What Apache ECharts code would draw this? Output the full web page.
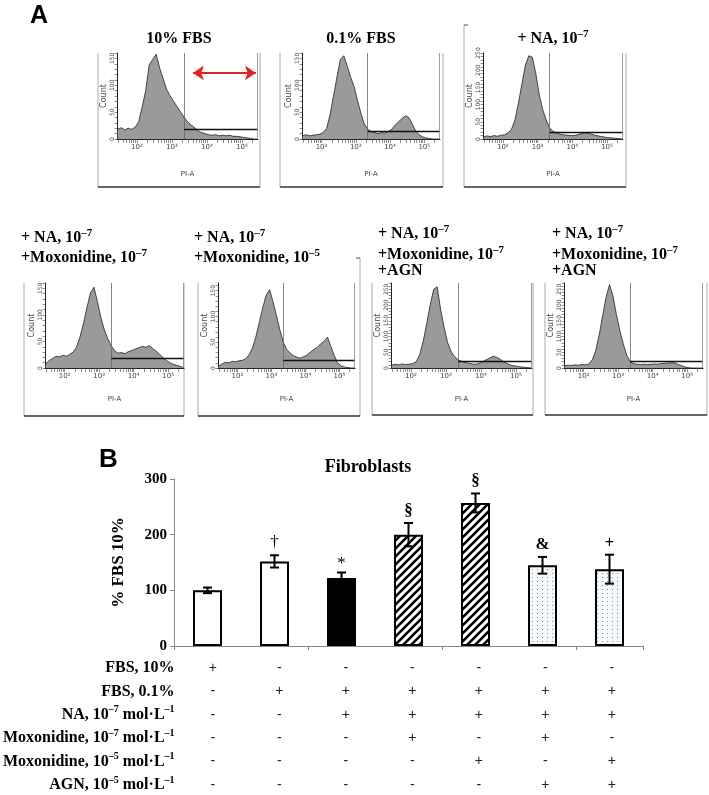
<!DOCTYPE html>
<html><head><meta charset="utf-8">
<script src="https://cdn.jsdelivr.net/npm/echarts@6/dist/echarts.min.js"></script>
<style>html,body{margin:0;padding:0;background:#fff}#c{width:709px;height:795px}</style>
</head><body><div id="c"></div>
<script>
// ---------- Panel A: flow cytometry histograms (x = log10 PI-A, y = count) ----------
const histX = [1.45,1.55,1.65,1.75,1.85,1.95,2.05,2.15,2.25,2.35,2.45,2.55,2.65,2.75,2.85,2.95,3.05,3.15,3.25,3.35,3.45,3.55,3.65,3.75,3.85,3.95,4.05,4.15,4.25,4.35,4.45,4.55,4.65,4.75,4.85,4.95,5.05,5.15,5.25,5.35,5.45];
const histFBS10   = [18,21,17,20,18,22,32,60,90,138,148,158,132,112,92,80,70,60,50,40,32,26,21,15,12,10,8,7,8,6,7,6,7,5,5,4,3,2,1,0,0];
const histFBS01   = [6,8,6,7,8,9,12,20,45,80,115,148,155,136,115,98,72,48,28,18,14,12,10,12,11,14,18,26,32,38,43,40,28,15,8,4,2,1,0,0,0];
const histNA      = [6,9,7,10,8,11,12,18,28,55,105,160,215,242,238,190,128,85,55,32,22,18,14,12,11,10,10,12,15,18,17,14,11,9,7,5,4,3,2,1,0];
const histNAMox7  = [8,14,18,22,21,24,22,26,30,40,60,85,115,142,152,125,95,72,55,42,32,28,29,27,31,33,36,38,41,39,42,37,32,26,20,14,10,7,5,3,1];
const histNAMox5  = [4,8,11,10,13,12,14,15,18,26,40,62,90,118,142,152,128,102,74,50,36,29,24,21,19,22,25,31,36,40,47,52,60,42,24,10,4,2,1,0,0];
const histAGN1    = [9,12,10,13,11,12,14,20,42,85,140,200,250,258,185,128,80,52,36,26,21,18,15,13,12,15,20,26,32,37,34,28,20,14,9,7,5,3,2,1,0];
const histAGN2    = [7,9,8,10,9,11,10,13,26,55,105,165,225,265,228,170,118,76,40,20,14,12,11,12,11,12,13,12,14,15,16,17,16,11,7,3,1,0,0,0,0];
const histYMax    = [160,160,250,160,165,270,270];
const histGateLvl = [19,14,21,19,16,22,22];
const gateX = 3.35, xLo = 1.43, xHi = 5.46, xEnd = 5.44;
const arrowX = [3.6, 5.4], arrowY = 123;
const decadeTicks = [2,3,4,5];

// ---------- Panel B: bar chart ----------
const groups = ['FBS 10%','FBS 0.1%','NA','NA+Mox7','NA+Mox5','NA+Mox7+AGN','NA+Mox5+AGN'];
const means  = [100,152,122,200,257,145,138];
const errs   = [5,11,10,21,17,15,26];
const marks  = ['','†','*','§','§','&','+'];
const yTicksB = [0,100,200,300];
const rowLabels = ['FBS, 10%','FBS, 0.1%','NA, 10{s|–7} mol·L{s|–1}','Moxonidine, 10{s|–7} mol·L{s|–1}','Moxonidine, 10{s|–5} mol·L{s|–1}','AGN, 10{s|–5} mol·L{s|–1}'];
const tableSigns = [
  ['+','-','-','-','-','-','-'],
  ['-','+','+','+','+','+','+'],
  ['-','-','+','+','+','+','+'],
  ['-','-','-','+','-','+','-'],
  ['-','-','-','-','+','-','+'],
  ['-','-','-','-','-','+','+']
];

const SERIF = '"Liberation Serif","Times New Roman",serif';
const SANS = '"Liberation Sans",Arial,sans-serif';
const histData = [histFBS10,histFBS01,histNA,histNAMox7,histNAMox5,histAGN1,histAGN2];
const gridL = [117,302,483,45,218,391,564];
const gridW = [141,138,140,139,137,141,139];
const gridT = [53,53,53,283,283,283,283];
const gridH = [86,86,86,85,85,85,85];
const nameGapX = [32,32,32,28,28,28,28];

const minorX = [];
for (let n = 1; n <= 5; n++) for (let k = 1; k <= 9; k++) { const v = n + Math.log10(k); if (v >= xLo && v <= xHi) minorX.push(+v.toFixed(4)); }
const sup = {2:'10²',3:'10³',4:'10⁴',5:'10⁵'};

function hatchCanvas(){
  const s=8,c=document.createElement('canvas');c.width=c.height=s;const g=c.getContext('2d');
  g.fillStyle='#fff';g.fillRect(0,0,s,s);g.strokeStyle='#000';g.lineWidth=2.6;g.beginPath();
  g.moveTo(-2,s+2);g.lineTo(s+2,-2);g.moveTo(-2,2);g.lineTo(2,-2);g.moveTo(s-2,s+2);g.lineTo(s+2,s-2);g.stroke();return c;
}
function dotCanvas(){
  const c=document.createElement('canvas');c.width=5;c.height=4;const g=c.getContext('2d');
  g.fillStyle='#f6f9fc';g.fillRect(0,0,5,4);g.fillStyle='#6f92bb';g.fillRect(2,1,1,1);return c;
}
const fills = {open:'#fff', solid:'#000', hatch:{image:hatchCanvas(),repeat:'repeat'}, dots:{image:dotCanvas(),repeat:'repeat'}};
const fillKind = ['open','open','solid','hatch','hatch','dots','dots'];

const grids=[], xAxes=[], yAxes=[], series=[];
histData.forEach((arr,i)=>{
  const ymax = histYMax[i];
  grids.push({left:gridL[i], top:gridT[i], width:gridW[i], height:gridH[i]});
  const yt=[]; for(let v=0; v<=ymax; v+=10) yt.push(v);
  const yl=[]; for(let v=0; v<=ymax; v+=50) yl.push(v);
  xAxes.push({type:'value', gridIndex:i, min:xLo, max:xHi,
    axisLine:{lineStyle:{color:'#222',width:1}},
    axisTick:{customValues:minorX, length:4, lineStyle:{color:'#444',width:0.6}},
    axisLabel:{customValues:decadeTicks, formatter:v=>sup[Math.round(v)]||'', fontSize:7, color:'#444', fontFamily:'DejaVu Sans', margin:5},
    splitLine:{show:false}, name:'PI-A', nameLocation:'middle', nameGap:nameGapX[i],
    nameTextStyle:{fontSize:7, color:'#444', fontFamily:'DejaVu Sans'}});
  yAxes.push({type:'value', gridIndex:i, min:0, max:ymax,
    axisLine:{show:true, lineStyle:{color:'#222',width:1}},
    axisTick:{show:true, customValues:yt, length:2.5, lineStyle:{color:'#444',width:0.6}},
    axisLabel:{customValues:yl, rotate:90, fontSize:6, color:'#444', fontFamily:'DejaVu Sans', margin:2},
    splitLine:{show:false}, name:'Count', nameLocation:'middle', nameGap:8,
    nameTextStyle:{fontSize:8, color:'#444', fontFamily:'DejaVu Sans'}});
  const ml = [
    [{coord:[gateX,0], lineStyle:{color:'#666',width:0.8}},{coord:[gateX,ymax]}],
    [{coord:[xEnd,0], lineStyle:{color:'#888',width:0.8}},{coord:[xEnd,ymax]}],
    [{coord:[gateX,histGateLvl[i]], lineStyle:{color:'#111',width:1.3}},{coord:[xEnd,histGateLvl[i]]}]
  ];
  if (i===0) ml.push([{coord:[arrowX[0],arrowY], symbol:'arrow', symbolSize:[11,11], lineStyle:{color:'#e02424',width:2}, itemStyle:{color:'#e02424'}},
                      {coord:[arrowX[1],arrowY], symbol:'arrow', symbolSize:[11,11], itemStyle:{color:'#e02424'}}]);
  series.push({type:'line', xAxisIndex:i, yAxisIndex:i, data:histX.map((x,k)=>[x,arr[k]]), symbol:'none',
    lineStyle:{color:'#222',width:0.8}, areaStyle:{color:'#9a9a9a',opacity:1}, z:2,
    markLine:{silent:true, symbol:['none','none'], animation:false, label:{show:false}, lineStyle:{type:'solid'}, data:ml}});
});

// Bar chart grid (index 7)
grids.push({left:174, top:479, width:469, height:167});
xAxes.push({type:'category', gridIndex:7, data:groups, axisLine:{lineStyle:{color:'#888',width:1}},
  axisTick:{show:true, length:4, lineStyle:{color:'#888'}}, axisLabel:{show:false}});
yAxes.push({type:'value', gridIndex:7, min:0, max:300, interval:100,
  axisLine:{show:true, lineStyle:{color:'#888',width:1}}, axisTick:{show:true,length:4,lineStyle:{color:'#888'}},
  axisLabel:{customValues:yTicksB, fontFamily:SERIF, fontWeight:'bold', fontSize:15, color:'#000', margin:7},
  splitLine:{show:false}, name:'% FBS 10%', nameLocation:'middle', nameGap:47,
  nameTextStyle:{fontFamily:SERIF, fontWeight:'bold', fontSize:17, color:'#000'}});
series.push({type:'bar', xAxisIndex:7, yAxisIndex:7, barWidth:29,
  data:means.map((v,i)=>({value:v, itemStyle:{color:fills[fillKind[i]]}})),
  itemStyle:{borderColor:'#000', borderWidth:2}});
series.push({type:'custom', xAxisIndex:7, yAxisIndex:7, z:5,
  data:means.map((m,i)=>[i, m-errs[i], m+errs[i]]),
  renderItem:(p,api)=>{
    const i=api.value(0); const lo=api.coord([i,api.value(1)]); const hi=api.coord([i,api.value(2)]); const cw=4.5;
    const mk = marks[i]; const isPlus = mk==='+';
    return {type:'group', children:[
      {type:'line', shape:{x1:lo[0],y1:lo[1],x2:hi[0],y2:hi[1]}, style:{stroke:'#000',lineWidth:2}},
      {type:'line', shape:{x1:hi[0]-cw,y1:hi[1],x2:hi[0]+cw,y2:hi[1]}, style:{stroke:'#000',lineWidth:2}},
      {type:'line', shape:{x1:lo[0]-cw,y1:lo[1],x2:lo[0]+cw,y2:lo[1]}, style:{stroke:'#000',lineWidth:2}},
      {type:'text', x:hi[0], y:hi[1]-(mk==='*'?0:4), style:{text:mk, fill:'#000', align:'center', verticalAlign:'bottom',
        fontFamily:isPlus?SANS:SERIF, fontWeight:(isPlus||mk==='*'||mk==='†')?'normal':'bold', fontSize:isPlus?16:17}}
    ]};
  }});

// Table grid (index 8)
grids.push({left:174, top:668, width:469, height:119});
xAxes.push({type:'category', gridIndex:8, data:groups, show:false});
yAxes.push({type:'category', gridIndex:8, data:rowLabels, inverse:true, boundaryGap:false,
  axisLine:{show:false}, axisTick:{show:false}, splitLine:{show:false},
  axisLabel:{fontFamily:SERIF, fontWeight:'bold', fontSize:16, color:'#000', margin:3, lineHeight:20,
    rich:{s:{fontFamily:SERIF, fontWeight:'bold', fontSize:10, verticalAlign:'top', lineHeight:10}}}});
const tableData=[]; tableSigns.forEach((row,r)=>row.forEach((s,c)=>tableData.push([c,r])));
series.push({type:'custom', xAxisIndex:8, yAxisIndex:8,
  data:tableData,
  renderItem:(p,api)=>{
    const c=api.value(0), r=api.value(1); const pt=api.coord([c,r]);
    return {type:'text', x:pt[0]+2, y:pt[1], style:{text:tableSigns[r][c], fill:'#222', align:'center', verticalAlign:'middle', fontFamily:SANS, fontSize:14}};
  }});

// ---------- decorations ----------
const graphic=[];
function ln(x1,y1,x2,y2,color,w){graphic.push({type:'line',shape:{x1,y1,x2,y2},style:{stroke:color,lineWidth:w},silent:true});}
const frames=[[98,260,53,187],[280,443,53,187],[464,626,53,187],[24,184,283,416],[198,360,283,416],[372,533,283,415],[545,707,283,415]];
frames.forEach(([l,r,t,b])=>{ln(l,t,l,b,'#aaa',1);ln(r,t,r,b,'#aaa',1);ln(l,b,r,b,'#333',1.5);});
ln(464,25,464,53,'#aaa',1); ln(464,25,468,25,'#555',1);
ln(360,258,360,283,'#aaa',1); ln(356,258,360,258,'#555',1);
const supRich={s:{fontFamily:SERIF,fontWeight:'bold',fontSize:11,verticalAlign:'top',lineHeight:11}};
function txt(x,y,text,align,opts){graphic.push({type:'text',x,y,silent:true,style:Object.assign({text,fill:'#000',align,verticalAlign:'middle',fontFamily:SERIF,fontWeight:'bold',fontSize:16,lineHeight:20,rich:supRich},opts||{})});}
txt(30,16,'A','left',{fontFamily:SANS,fontSize:25,lineHeight:25});
txt(99,460,'B','left',{fontFamily:SANS,fontSize:26,lineHeight:26});
txt(179,39,'10% FBS','center');
txt(361,39,'0.1% FBS','center');
txt(553,39,'+ NA, 10{s|–7}','center');
txt(21,238,'+ NA, 10{s|–7}','left'); txt(21,258,'+Moxonidine, 10{s|–7}','left');
txt(194,238,'+ NA, 10{s|–7}','left'); txt(194,258,'+Moxonidine, 10{s|–5}','left');
txt(378,234,'+ NA, 10{s|–7}','left'); txt(378,255,'+Moxonidine, 10{s|–7}','left'); txt(378,271,'+AGN','left');
txt(552,234,'+ NA, 10{s|–7}','left'); txt(552,255,'+Moxonidine, 10{s|–7}','left'); txt(552,271,'+AGN','left');
txt(368,467,'Fibroblasts','center',{fontSize:18});

const chart = echarts.init(document.getElementById('c'));
chart.setOption({animation:false, backgroundColor:'#fff', grid:grids, xAxis:xAxes, yAxis:yAxes, series, graphic});
</script></body></html>
